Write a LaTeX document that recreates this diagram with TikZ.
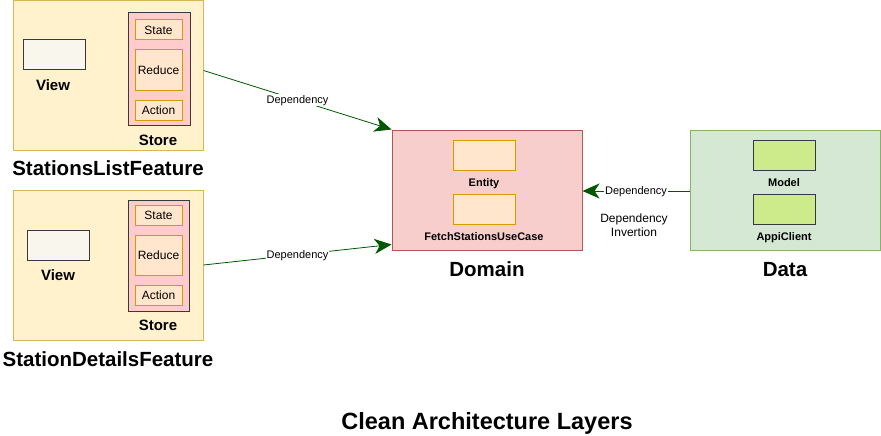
\documentclass[tikz,border=0pt]{standalone}
\usepackage{fontspec}
\setmainfont{Liberation Sans}
\usetikzlibrary{arrows.meta,calc}
\definecolor{featfill}{HTML}{FFF2CC}
\definecolor{featdraw}{HTML}{D6B656}
\definecolor{storefill}{HTML}{FFCCCC}
\definecolor{darkdraw}{HTML}{36393D}
\definecolor{itemfill}{HTML}{FFE6CC}
\definecolor{itemdraw}{HTML}{D79B00}
\definecolor{viewfill}{HTML}{F9F7ED}
\definecolor{domfill}{HTML}{F8CECC}
\definecolor{domdraw}{HTML}{B85450}
\definecolor{datafill}{HTML}{D5E8D4}
\definecolor{datadraw}{HTML}{82B366}
\definecolor{modelfill}{HTML}{CDEB8B}
\definecolor{arrowgreen}{HTML}{005700}
\tikzset{
  box/.style={rectangle, inner sep=0pt, line width=1pt},
  feature/.style={box, fill=featfill, draw=featdraw, minimum width=190pt, minimum height=150pt},
  storebox/.style={box, fill=storefill, draw=darkdraw},
  item/.style={box, fill=itemfill, draw=itemdraw, minimum width=47pt, text height=8.6pt, text depth=0pt, font=\fontsize{12}{14}\selectfont},
  viewbox/.style={box, fill=viewfill, draw=darkdraw, minimum width=62pt, minimum height=30pt},
  layer/.style={box, minimum width=190pt, minimum height=120pt},
  entbox/.style={box, fill=itemfill, draw=itemdraw, minimum width=62pt, minimum height=30pt},
  modbox/.style={box, fill=modelfill, draw=darkdraw, minimum width=62pt, minimum height=30pt},
  lbl/.style={inner sep=0pt, text height=10.8pt, text depth=0pt, font=\bfseries\fontsize{15}{17}\selectfont},
  smalllbl/.style={inner sep=0pt, text height=7.9pt, text depth=0pt, font=\bfseries\fontsize{11}{13}\selectfont},
  bigtitle/.style={inner sep=0pt, text height=14.8pt, text depth=0pt, font=\bfseries\fontsize{20.5}{24}\selectfont},
  dep/.style={draw=arrowgreen, line width=0.8pt, -{Stealth[length=17pt, width=15pt, inset=5pt]}},
  deplbl/.style={fill=white, inner xsep=1pt, inner ysep=2pt, text height=7.9pt, text depth=0pt, font=\fontsize{11}{13}\selectfont},
}
\begin{document}
\begin{tikzpicture}[x=1pt, y=-1pt]
\useasboundingbox (0,0) rectangle (881,436);
% Feature 1
\node[feature] (f1) at (108,75.5) {};
\node[viewbox] (v1) at (54,55) {};
\node[lbl] (v1l) at (53,85.5) {View};
\node[storebox, minimum width=62pt, minimum height=112pt] (s1) at (159,69) {};
\node[item, minimum height=20pt] (st1) at (158.5,30) {State};
\node[item, minimum height=40pt] (re1) at (158.5,70) {Reduce};
\node[item, minimum height=20pt] (ac1) at (158.5,110) {Action};
\node[lbl] (s1l) at (158,140.5) {Store};
\node[bigtitle] (t1) at (108,168.5) {StationsListFeature};
% Feature 2
\node[feature] (f2) at (108,265) {};
\node[viewbox] (v2) at (58,245) {};
\node[lbl] (v2l) at (58,275.5) {View};
\node[storebox, minimum width=61pt, minimum height=111pt] (s2) at (158.5,255.5) {};
\node[item, minimum height=20pt] (st2) at (158.5,215) {State};
\node[item, minimum height=40pt] (re2) at (158.5,255) {Reduce};
\node[item, minimum height=20pt] (ac2) at (158.5,295) {Action};
\node[lbl] (s2l) at (158,325.5) {Store};
\node[bigtitle] (t2) at (108,359) {StationDetailsFeature};
% Domain
\node[layer, fill=domfill, draw=domdraw] (dom) at (487,190) {};
\node[entbox] (ent) at (484,155) {};
\node[smalllbl] (entl) at (484,183) {Entity};
\node[entbox] (uc) at (484,209) {};
\node[smalllbl] (ucl) at (484,237) {FetchStationsUseCase};
\node[bigtitle] (doml) at (487,269) {Domain};
% Data
\node[layer, fill=datafill, draw=datadraw] (dat) at (785,190) {};
\node[modbox] (mod) at (784,155) {};
\node[smalllbl] (modl) at (784,183) {Model};
\node[modbox] (api) at (784,209) {};
\node[smalllbl] (apil) at (784,237) {AppiClient};
\node[bigtitle] (datl) at (785,269) {Data};
% Connectors
\coordinate (a1s) at ($(f1.east)+(0,-5)$);
\coordinate (a2e) at ($(dom.south west)+(0,-6)$);
\coordinate (a3s) at ($(dat.west)+(0,1)$);
\coordinate (a3e) at ($(dom.east)+(0,1)$);
\draw[dep] (a1s) -- node[deplbl] {Dependency} (dom.north west);
\draw[dep] (f2.east) -- node[deplbl] {Dependency} (a2e);
\draw[dep] (a3s) -- node[deplbl] {Dependency} (a3e);
\node[align=center, inner sep=0pt, font=\fontsize{12}{14}\selectfont] (inv) at (634,225) {Dependency\\Invertion};
\node[inner sep=0pt, text height=17pt, text depth=0pt, font=\bfseries\fontsize{23.5}{27}\selectfont] (title) at (487,420.5) {Clean Architecture Layers};
\end{tikzpicture}
\end{document}
